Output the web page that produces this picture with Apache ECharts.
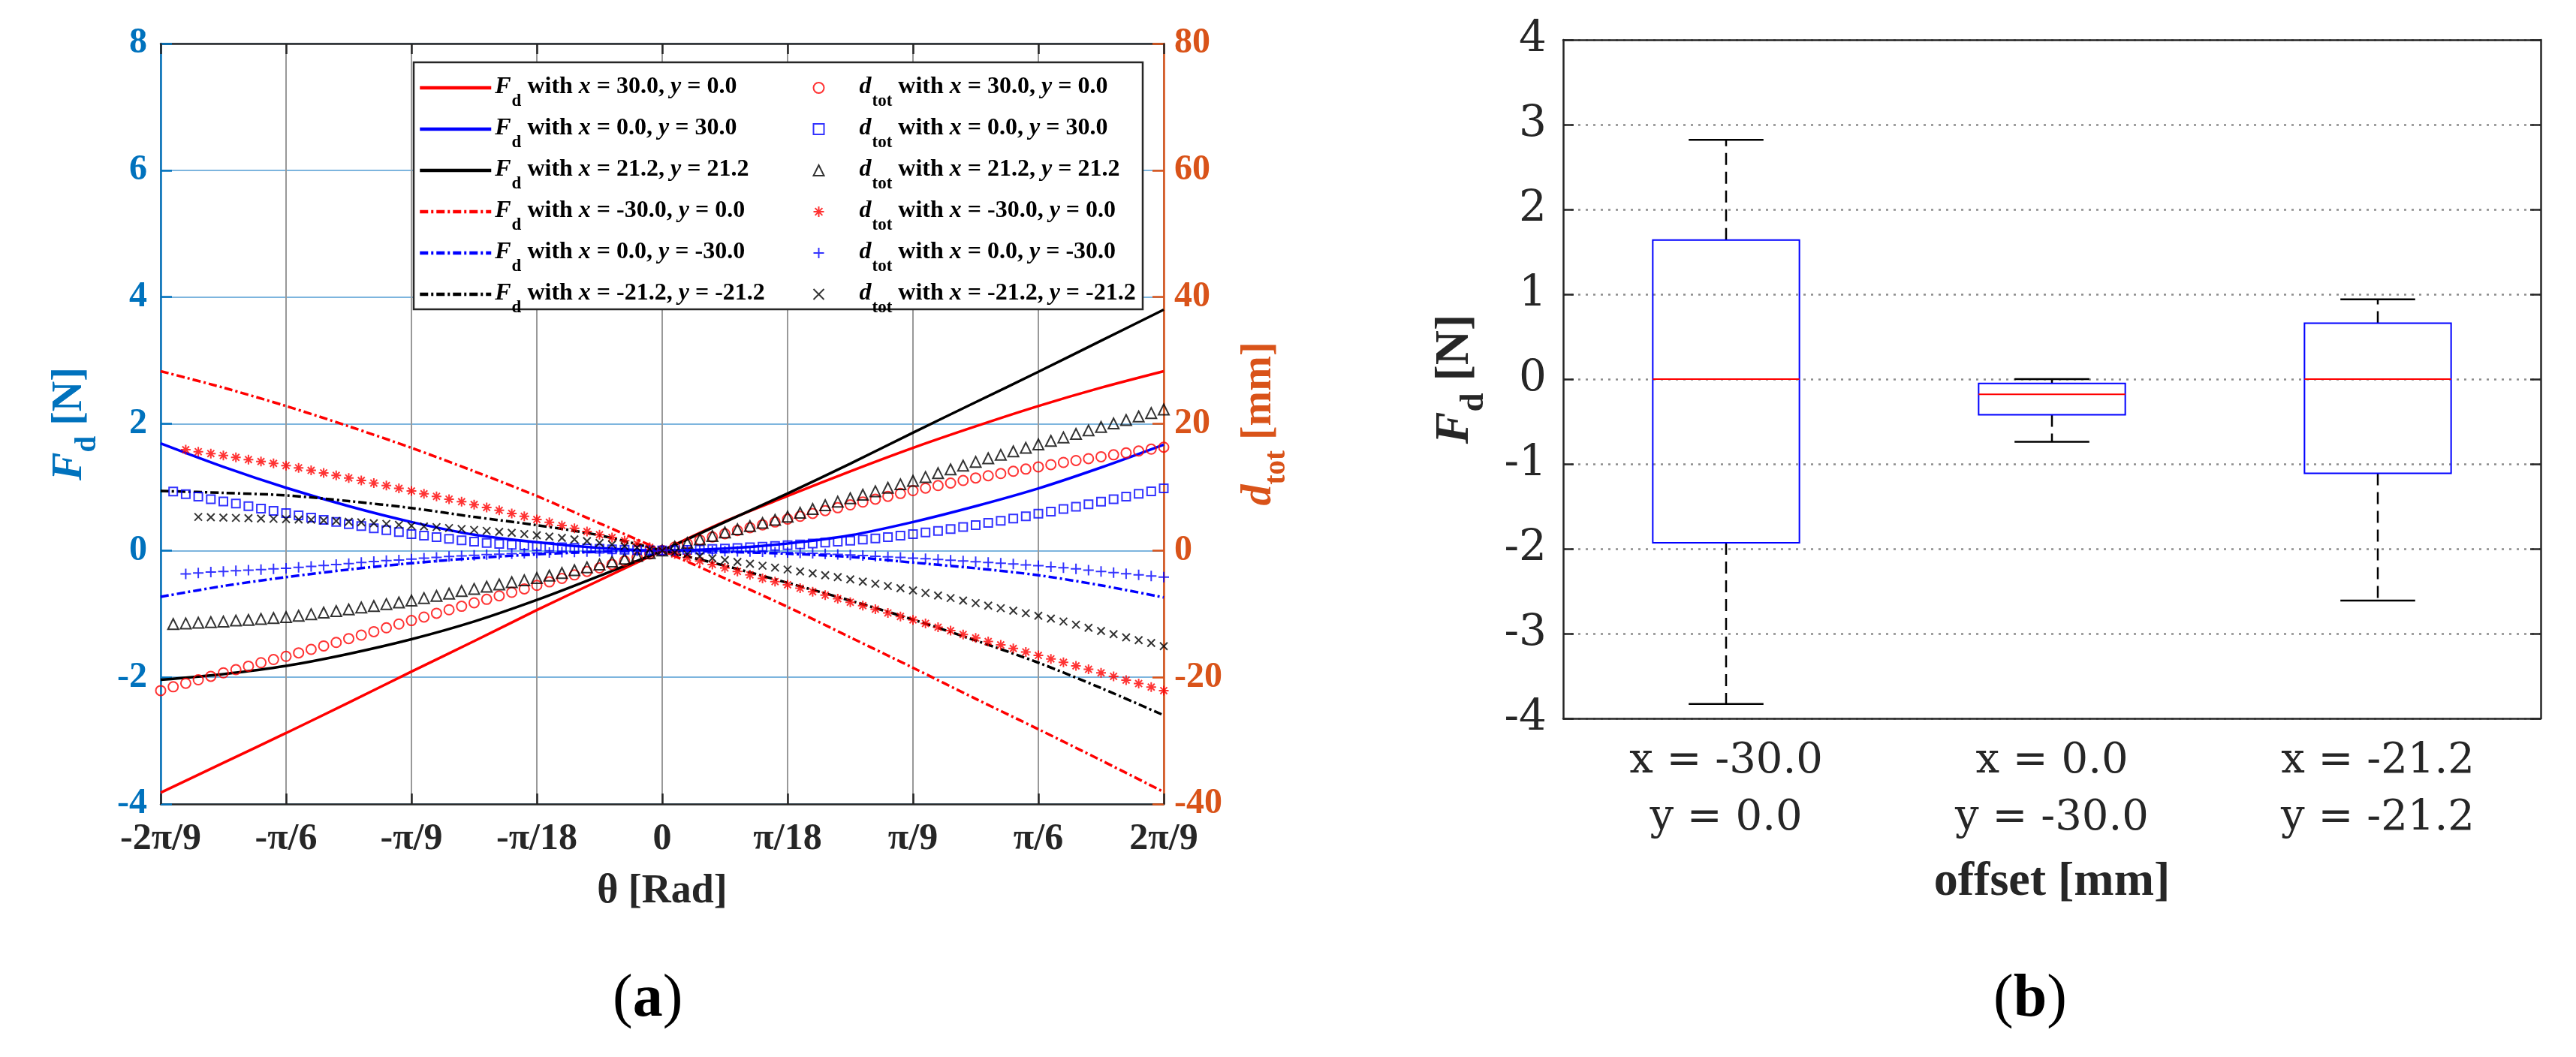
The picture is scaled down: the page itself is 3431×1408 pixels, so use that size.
<!DOCTYPE html>
<html>
<head>
<meta charset="utf-8">
<script src="https://cdn.jsdelivr.net/npm/echarts@6/dist/echarts.min.js"></script>
<style>
html, body { margin: 0; padding: 0; background: #fff; }
#chart { width: 3431px; height: 1408px; }
</style>
</head>
<body>
<div id="chart"></div>
<script>
// ---- (a) data ----
var thetaTicks = ['-2π/9', '-π/6', '-π/9', '-π/18', '0', 'π/18', 'π/9', 'π/6', '2π/9'];
var offX = ['30.0', '0.0', '21.2', '-30.0', '0.0', '-21.2'];
var offY = ['0.0', '30.0', '21.2', '0.0', '-30.0', '-21.2'];

// F_d curves, sampled every 5 deg from -40 to 40 (deg, shown as rad ticks)
var thetaLine = [-40, -35, -30, -25, -20, -15, -10, -5, 0, 5, 10, 15, 20, 25, 30, 35, 40];
var fdX30   = [-3.82, -3.35, -2.88, -2.40, -1.91, -1.43, -0.94, -0.47, 0, 0.46, 0.86, 1.25, 1.62, 1.96, 2.28, 2.57, 2.83];
var fdY30   = [1.69, 1.32, 0.99, 0.70, 0.45, 0.25, 0.13, 0.04, 0, 0.03, 0.11, 0.24, 0.45, 0.70, 0.98, 1.31, 1.67];
var fdXY21  = [-2.04, -1.95, -1.82, -1.63, -1.40, -1.12, -0.78, -0.40, 0, 0.45, 0.90, 1.37, 1.86, 2.34, 2.82, 3.31, 3.80];
var fdXm30  = [2.83, 2.57, 2.28, 1.96, 1.62, 1.25, 0.86, 0.43, 0, -0.44, -0.89, -1.37, -1.85, -2.34, -2.82, -3.31, -3.81];
var fdYm30  = [-0.73, -0.56, -0.42, -0.30, -0.20, -0.12, -0.06, -0.02, 0, -0.02, -0.05, -0.10, -0.19, -0.28, -0.39, -0.55, -0.74];
var fdXYm21 = [0.94, 0.91, 0.87, 0.78, 0.67, 0.53, 0.40, 0.24, 0, -0.24, -0.51, -0.79, -1.09, -1.42, -1.77, -2.17, -2.60];

// d_tot markers, one per degree; first angle of each run
var dtotStart = [-40, -39, -39, -38, -38, -37];
var dtotX30 = [-22.1, -21.5, -20.95, -20.4, -19.85, -19.3, -18.8, -18.25, -17.7, -17.2,
  -16.7, -16.15, -15.6, -15.05, -14.5, -13.9, -13.35, -12.8, -12.2, -11.6,
  -11.05, -10.5, -9.9, -9.35, -8.8, -8.25, -7.7, -7.15, -6.6, -6.05,
  -5.5, -4.95, -4.4, -3.85, -3.3, -2.75, -2.2, -1.65, -1.1, -0.55,
  0, 0.55, 1.1, 1.65, 2.15, 2.65, 3.15, 3.6, 4.05, 4.5,
  4.95, 5.4, 5.85, 6.3, 6.75, 7.2, 7.65, 8.1, 8.55, 9.0,
  9.45, 9.85, 10.25, 10.65, 11.05, 11.45, 11.8, 12.15, 12.5, 12.85,
  13.2, 13.55, 13.9, 14.2, 14.5, 14.8, 15.1, 15.4, 15.7, 16.0, 16.3];
var dtotY30 = [9.3, 8.9, 8.5, 8.1, 7.75, 7.4, 7.0, 6.6, 6.25,
  5.9, 5.55, 5.2, 4.85, 4.5, 4.15, 3.85, 3.5, 3.2, 2.9,
  2.6, 2.35, 2.1, 1.85, 1.6, 1.4, 1.2, 1.05, 0.9, 0.8,
  0.7, 0.6, 0.5, 0.42, 0.35, 0.28, 0.2, 0.13, 0.08, 0.03,
  0,
  0.03, 0.1, 0.17, 0.25, 0.32, 0.4, 0.5, 0.6, 0.72, 0.85,
  0.97, 1.1, 1.25, 1.4, 1.55, 1.72, 1.9, 2.1, 2.35, 2.6,
  2.85, 3.1, 3.4, 3.7, 4.0, 4.35, 4.7, 5.05, 5.4, 5.8,
  6.15, 6.55, 6.9, 7.3, 7.7, 8.1, 8.5, 8.95, 9.35, 9.8];
var dtotXY21 = [-11.6, -11.5, -11.4, -11.3, -11.2, -11.05, -10.95, -10.8, -10.65,
  -10.5, -10.3, -10.05, -9.8, -9.55, -9.3, -9.0, -8.75, -8.45, -8.2,
  -7.9, -7.5, -7.15, -6.8, -6.4, -6.05, -5.7, -5.35, -5.0, -4.7,
  -4.35, -3.95, -3.55, -3.1, -2.65, -2.2, -1.75, -1.3, -0.85, -0.4,
  0,
  0.6, 1.2, 1.75, 2.3, 2.85, 3.35, 3.85, 4.35, 4.85, 5.35,
  5.95, 6.55, 7.15, 7.7, 8.25, 8.8, 9.35, 9.9, 10.45, 11.0,
  11.6, 12.2, 12.8, 13.4, 14.0, 14.55, 15.1, 15.65, 16.2, 16.75,
  17.3, 17.85, 18.4, 18.95, 19.5, 20.05, 20.6, 21.15, 21.7, 22.25];
var dtotXm30 = [15.9, 15.6, 15.3, 15.0, 14.7, 14.35, 14.05, 13.75,
  13.4, 13.05, 12.65, 12.25, 11.85, 11.45, 11.05, 10.65, 10.25, 9.8,
  9.4, 8.95, 8.55, 8.1, 7.7, 7.25, 6.8, 6.35, 5.85, 5.4,
  4.9, 4.45, 3.95, 3.5, 3.0, 2.5, 2.05, 1.55, 1.05, 0.5,
  0,
  -0.55, -1.1, -1.65, -2.2, -2.75, -3.3, -3.85, -4.4, -4.9, -5.4,
  -5.95, -6.5, -7.05, -7.6, -8.15, -8.7, -9.25, -9.85, -10.4, -10.95,
  -11.5, -12.1, -12.65, -13.25, -13.8, -14.35, -14.9, -15.45, -16.0, -16.55,
  -17.1, -17.65, -18.2, -18.75, -19.3, -19.85, -20.45, -21.0, -21.55, -22.1];
var dtotYm30 = [-3.7, -3.55, -3.4, -3.3, -3.2, -3.1, -3.0, -2.9,
  -2.8, -2.65, -2.5, -2.35, -2.2, -2.05, -1.9, -1.75, -1.6, -1.5,
  -1.35, -1.2, -1.1, -0.95, -0.85, -0.75, -0.65, -0.57, -0.5, -0.44,
  -0.38, -0.32, -0.27, -0.22, -0.18, -0.14, -0.1, -0.07, -0.04, -0.02,
  0,
  -0.01, -0.03, -0.05, -0.07, -0.1, -0.13, -0.17, -0.21, -0.26, -0.31,
  -0.37, -0.44, -0.52, -0.6, -0.7, -0.8, -0.9, -1.0, -1.1, -1.2,
  -1.3, -1.4, -1.52, -1.64, -1.76, -1.88, -2.0, -2.13, -2.26, -2.4,
  -2.56, -2.72, -2.9, -3.1, -3.3, -3.48, -3.66, -3.84, -4.02, -4.2];
var dtotXYm21 = [5.3, 5.25, 5.2, 5.15, 5.1, 5.05, 5.0,
  4.95, 4.9, 4.85, 4.75, 4.65, 4.55, 4.45, 4.3, 4.2, 4.05,
  3.9, 3.8, 3.7, 3.55, 3.4, 3.25, 3.1, 2.95, 2.8, 2.6,
  2.4, 2.2, 2.0, 1.75, 1.5, 1.2, 0.95, 0.7, 0.45, 0.2,
  0,
  -0.3, -0.6, -0.9, -1.2, -1.5, -1.8, -2.1, -2.4, -2.7, -3.0,
  -3.3, -3.6, -3.9, -4.2, -4.55, -4.9, -5.25, -5.6, -5.95, -6.3,
  -6.7, -7.1, -7.5, -7.9, -8.3, -8.7, -9.1, -9.5, -9.9, -10.3,
  -10.75, -11.2, -11.7, -12.2, -12.7, -13.2, -13.7, -14.15, -14.6, -15.1];

// ---- (b) data ----
var boxOffX = ['-30.0', '0.0', '-21.2'];
var boxOffY = ['0.0', '-30.0', '-21.2'];
var whiskerLow  = [-3.83, -0.74, -2.61];
var q1          = [-1.93, -0.42, -1.11];
var median      = [0.0, -0.18, 0.0];
var q3          = [1.64, -0.05, 0.66];
var whiskerHigh = [2.82, 0.0, 0.94];

var SERIF = 'Liberation Serif';
var BLUE_AX = '#0072BD', ORANGE_AX = '#D95319', INK = '#262626';

var fdSeries = [fdX30, fdY30, fdXY21, fdXm30, fdYm30, fdXYm21];
var dtotSeries = [dtotX30, dtotY30, dtotXY21, dtotXm30, dtotYm30, dtotXYm21];
var colors = ['#ff0000', '#0000ff', '#000000', '#ff0000', '#0000ff', '#000000'];
var markers = [
  { symbol: 'circle', size: 13 },
  { symbol: 'rect', size: 11 },
  { symbol: 'triangle', size: 14 },
  { symbol: 'path://M5,0L5,10M0,5L10,5M1.5,1.5L8.5,8.5M8.5,1.5L1.5,8.5', size: 13 },
  { symbol: 'path://M5,0L5,10M0,5L10,5', size: 14 },
  { symbol: 'path://M0,0L10,10M10,0L0,10', size: 10 }
];

var fdNames = offX.map(function (x, i) { return 'Fd with x = ' + x + ', y = ' + offY[i]; });
var dtotNames = offX.map(function (x, i) { return 'dtot with x = ' + x + ', y = ' + offY[i]; });

function legendText(name) {
  var m = name.match(/^(Fd|dtot) with x = (\S+), y = (\S+)$/);
  var head = m[1] === 'Fd' ? '{i|F}{s|d}' : '{i|d}{s|tot}';
  return head + '{t| with }{i|x}{t| = ' + m[2] + ', }{i|y}{t| = ' + m[3] + '}';
}

var legRich = {
  t: { fontFamily: SERIF, fontWeight: 'bold', fontSize: 32, lineHeight: 34, verticalAlign: 'top', color: '#000' },
  i: { fontFamily: SERIF, fontWeight: 'bold', fontStyle: 'italic', fontSize: 32, lineHeight: 34, verticalAlign: 'top', color: '#000' },
  s: { fontFamily: SERIF, fontWeight: 'bold', fontSize: 23, lineHeight: 22, padding: [24, 0, 0, 1], verticalAlign: 'top', color: '#000' }
};

function nameRich(color, size) {
  return {
    fi: { fontFamily: SERIF, fontWeight: 'bold', fontStyle: 'italic', fontSize: size, lineHeight: size, verticalAlign: 'top', color: color },
    s: { fontFamily: SERIF, fontWeight: 'bold', fontSize: Math.round(size * 0.7), lineHeight: Math.round(size * 0.7), padding: [Math.round(size * 0.55), 0, 0, 0], verticalAlign: 'top', color: color },
    b: { fontFamily: SERIF, fontWeight: 'bold', fontSize: size, lineHeight: size, verticalAlign: 'top', color: color }
  };
}

var series = [];
fdSeries.forEach(function (vals, k) {
  series.push({
    name: fdNames[k], type: 'line', xAxisIndex: 0, yAxisIndex: 0,
    data: thetaLine.map(function (t, i) { return [t, vals[i]]; }),
    symbol: 'none', smooth: 0.3, z: 2,
    lineStyle: { color: colors[k], width: 3.5, type: k < 3 ? 'solid' : [11, 4, 3, 4] },
    itemStyle: { color: colors[k] }
  });
});
dtotSeries.forEach(function (vals, k) {
  series.push({
    name: dtotNames[k], type: 'scatter', xAxisIndex: 0, yAxisIndex: 1,
    data: vals.map(function (v, i) { return [dtotStart[k] + i, v]; }),
    symbol: markers[k].symbol, symbolSize: markers[k].size, z: 3,
    itemStyle: { color: 'none', borderColor: colors[k], borderWidth: 2 }
  });
});

var catLabels = boxOffX.map(function (x, i) { return 'x = ' + x + '\ny = ' + boxOffY[i]; });
series.push({
  name: 'box', type: 'custom', xAxisIndex: 2, yAxisIndex: 2,
  data: boxOffX.map(function (x, i) { return [i, whiskerLow[i], q1[i], median[i], q3[i], whiskerHigh[i]]; }),
  encode: { x: 0, y: [1, 2, 3, 4, 5] },
  renderItem: function (params, api) {
    var c = api.value(0);
    var lo = api.coord([c, api.value(1)]);
    var b1 = api.coord([c, api.value(2)]);
    var md = api.coord([c, api.value(3)]);
    var b3 = api.coord([c, api.value(4)]);
    var hi = api.coord([c, api.value(5)]);
    var bw = api.size([1, 0])[0] * 0.45;
    var cw = bw * 0.51;
    var x = lo[0];
    var dash = { stroke: '#000', lineWidth: 2.5, lineDash: [16, 9] };
    var solid = { stroke: '#000', lineWidth: 2.5 };
    return {
      type: 'group',
      children: [
        { type: 'line', shape: { x1: x, y1: b1[1], x2: x, y2: lo[1] }, style: dash },
        { type: 'line', shape: { x1: x, y1: b3[1], x2: x, y2: hi[1] }, style: dash },
        { type: 'line', shape: { x1: x - cw / 2, y1: lo[1], x2: x + cw / 2, y2: lo[1] }, style: solid },
        { type: 'line', shape: { x1: x - cw / 2, y1: hi[1], x2: x + cw / 2, y2: hi[1] }, style: solid },
        { type: 'rect', shape: { x: x - bw / 2, y: b3[1], width: bw, height: b1[1] - b3[1] },
          style: { fill: 'none', stroke: '#0000ff', lineWidth: 2 } },
        { type: 'line', shape: { x1: x - bw / 2, y1: md[1], x2: x + bw / 2, y2: md[1] },
          style: { stroke: '#ff0000', lineWidth: 2 } }
      ]
    };
  }
});

var tagRich = {
  p: { fontFamily: SERIF, fontSize: 80, fill: '#000' },
  b: { fontFamily: SERIF, fontSize: 80, fontWeight: 'bold', fill: '#000' }
};

var option = {
  animation: false,
  backgroundColor: '#fff',
  grid: [
    { left: 214, right: 1881, top: 58, bottom: 337, containLabel: false },
    { left: 2082, right: 47, top: 53, bottom: 451, containLabel: false }
  ],
  legend: [
    {
      data: fdNames, orient: 'vertical', left: 557, top: 100, padding: 0,
      itemWidth: 95, itemHeight: 14, itemGap: 8, selectedMode: false,
      itemStyle: { color: 'rgba(0,0,0,0)', borderWidth: 0, opacity: 0 },
      lineStyle: { width: 4.5 },
      formatter: legendText, textStyle: { rich: legRich }
    },
    {
      data: dtotNames, orient: 'vertical', left: 1081, top: 100, padding: 0,
      itemWidth: 14, itemHeight: 14, itemGap: 8, selectedMode: false,
      formatter: legendText, textStyle: { rich: legRich, padding: [0, 0, 0, 42] }
    }
  ],
  graphic: [
    { type: 'rect', z: 3, shape: { x: 551, y: 83, width: 971, height: 329 },
      style: { fill: '#fff', stroke: INK, lineWidth: 2.5 } },
    { type: 'text', left: 862 - 46, top: 1292, style: { text: '{p|(}{b|a}{p|)}', rich: tagRich } },
    { type: 'text', left: 2703 - 48, top: 1292, style: { text: '{p|(}{b|b}{p|)}', rich: tagRich } }
  ],
  xAxis: [
    {
      gridIndex: 0, type: 'value', min: -40, max: 40, interval: 10, position: 'bottom',
      name: 'θ [Rad]', nameLocation: 'middle', nameGap: 90,
      nameTextStyle: { fontFamily: SERIF, fontWeight: 'bold', fontSize: 54, color: INK },
      axisLine: { onZero: false, lineStyle: { color: INK, width: 2.5 } },
      axisTick: { inside: true, length: 14, lineStyle: { color: INK, width: 2.5 } },
      axisLabel: {
        margin: 22, fontFamily: SERIF, fontWeight: 'bold', fontSize: 50, color: INK,
        formatter: function (v) { return thetaTicks[Math.round((v + 40) / 10)]; }
      },
      splitLine: { show: true, lineStyle: { color: '#999999', width: 2 } }
    },
    {
      gridIndex: 0, type: 'value', min: -40, max: 40, interval: 10, position: 'top',
      axisLine: { onZero: false, lineStyle: { color: INK, width: 2.5 } },
      axisTick: { inside: true, length: 14, lineStyle: { color: INK, width: 2.5 } },
      axisLabel: { show: false }, splitLine: { show: false }
    },
    {
      gridIndex: 1, type: 'category', data: catLabels, position: 'bottom',
      name: 'offset [mm]', nameLocation: 'middle', nameGap: 186,
      nameTextStyle: { fontFamily: SERIF, fontWeight: 'bold', fontSize: 64, color: INK },
      axisLine: { onZero: false, lineStyle: { color: INK, width: 2.5 } },
      axisTick: { inside: true, alignWithLabel: true, length: 14, lineStyle: { color: INK, width: 2.5 } },
      axisLabel: { margin: 19, fontFamily: 'DejaVu Serif', fontSize: 56, lineHeight: 76, color: INK },
      splitLine: { show: false }
    },
    {
      gridIndex: 1, type: 'category', data: catLabels, position: 'top',
      axisLine: { onZero: false, lineStyle: { color: INK, width: 2.5 } },
      axisTick: { inside: true, alignWithLabel: true, length: 14, lineStyle: { color: INK, width: 2.5 } },
      axisLabel: { show: false }, splitLine: { show: false }
    }
  ],
  yAxis: [
    {
      gridIndex: 0, type: 'value', min: -4, max: 8, interval: 2, position: 'left',
      name: '{fi|F}{s|d}{b| [N]}', nameLocation: 'middle', nameGap: 92, nameRotate: 90,
      nameTextStyle: { rich: nameRich(BLUE_AX, 56) },
      axisLine: { show: true, onZero: false, lineStyle: { color: BLUE_AX, width: 2.5 } },
      axisTick: { show: true, inside: true, length: 15, lineStyle: { color: BLUE_AX, width: 2.5 } },
      axisLabel: { margin: 18, fontFamily: SERIF, fontWeight: 'bold', fontSize: 48, color: BLUE_AX },
      splitLine: { show: true, lineStyle: { color: '#7db5de', width: 2 } }
    },
    {
      gridIndex: 0, type: 'value', min: -40, max: 80, interval: 20, position: 'right',
      name: '{fi|d}{s|tot}{b| [mm]}', nameLocation: 'middle', nameGap: 100, nameRotate: 90,
      nameTextStyle: { rich: nameRich(ORANGE_AX, 56) },
      axisLine: { show: true, onZero: false, lineStyle: { color: ORANGE_AX, width: 2.5 } },
      axisTick: { show: true, inside: true, length: 15, lineStyle: { color: ORANGE_AX, width: 2.5 } },
      axisLabel: { margin: 14, fontFamily: SERIF, fontWeight: 'bold', fontSize: 48, color: ORANGE_AX },
      splitLine: { show: false }
    },
    {
      gridIndex: 1, type: 'value', min: -4, max: 4, interval: 1, position: 'left',
      name: '{fi|F}{s|d}{b| [N]}', nameLocation: 'middle', nameGap: 112, nameRotate: 90,
      nameTextStyle: { rich: nameRich(INK, 64) },
      axisLine: { show: true, onZero: false, lineStyle: { color: INK, width: 2.5 } },
      axisTick: { show: true, inside: true, length: 14, lineStyle: { color: INK, width: 2.5 } },
      axisLabel: { margin: 22, fontFamily: 'DejaVu Serif', fontSize: 58, color: INK },
      splitLine: { show: true, lineStyle: { color: '#8c8c8c', width: 2.5, type: [3, 7] } }
    },
    {
      gridIndex: 1, type: 'value', min: -4, max: 4, interval: 1, position: 'right',
      axisLine: { show: true, onZero: false, lineStyle: { color: INK, width: 2.5 } },
      axisTick: { show: true, inside: true, length: 14, lineStyle: { color: INK, width: 2.5 } },
      axisLabel: { show: false }, splitLine: { show: false }
    }
  ],
  series: series
};

var chart = echarts.init(document.getElementById('chart'), null, { renderer: 'canvas' });
chart.setOption(option);
</script>
</body>
</html>
